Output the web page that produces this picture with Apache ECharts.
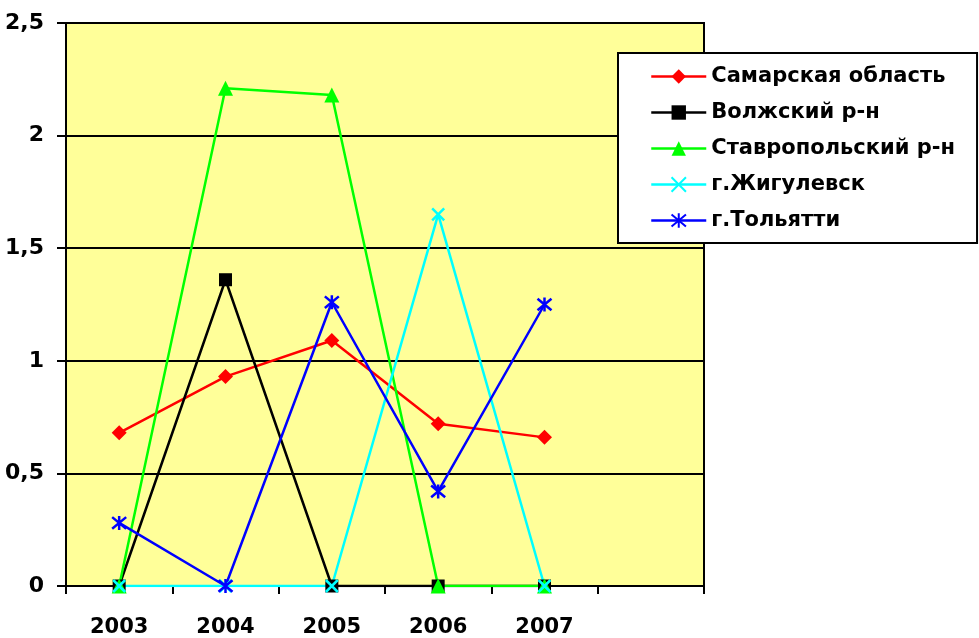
<!DOCTYPE html>
<html>
<head>
<meta charset="utf-8">
<script src="https://cdn.jsdelivr.net/npm/echarts@6/dist/echarts.min.js"></script>
<style>
  html, body { margin: 0; padding: 0; background: #fff; }
  #chart { width: 979px; height: 638px; }
</style>
</head>
<body>
<div id="chart"></div>
<script>
// годы (последняя категория пустая, как в исходной диаграмме)
let years = ['2003', '2004', '2005', '2006', '2007', ''];

// значения по территориям
let samara = [0.68, 0.93, 1.09, 0.72, 0.66];
let volzhsky = [0, 1.36, 0, 0, 0];
let stavropol = [0, 2.21, 2.18, 0, 0];
let zhigulevsk = [0, 0, 0, 1.65, 0];
let togliatti = [0.28, 0, 1.26, 0.42, 1.25];

let seriesNames = ['Самарская область', 'Волжский р-н', 'Ставропольский р-н', 'г.Жигулевск', 'г.Тольятти'];

let font = 'DejaVu Sans';

// крестик и звёздочка как в Excel
let xMark = 'path://M0 0L10 10M10 0L0 10';
let starMark = 'path://M0 0L10 10M10 0L0 10M5 -1L5 11';

function line(name, data, color, symbol, size) {
    return {
        name: name,
        type: 'line',
        data: data,
        symbol: symbol,
        symbolSize: size,
        showAllSymbol: true,
        animation: false,
        lineStyle: { color: color, width: 2.5 },
        itemStyle: { color: color, borderColor: color, borderWidth: symbol.indexOf('path') === 0 ? 2.5 : 0 }
    };
}

let myChart = echarts.init(document.getElementById('chart'));
let option = {
    animation: false,
    grid: {
        left: 66, right: 275, top: 23, bottom: 50,
        show: true,
        backgroundColor: '#FFFF99',
        borderColor: '#000',
        borderWidth: 2
    },
    legend: {
        orient: 'vertical',
        left: 618,
        top: 53,
        padding: [13, 22, 12, 32],
        backgroundColor: '#fff',
        borderColor: '#000',
        borderWidth: 2,
        itemWidth: 55,
        itemHeight: 18,
        itemGap: 15,
        data: seriesNames,
        lineStyle: { width: 2.5 },
        textStyle: { fontFamily: font, fontWeight: 'bold', fontSize: 21, color: '#000' }
    },
    xAxis: {
        type: 'category',
        data: years,
        boundaryGap: true,
        axisLine: { lineStyle: { color: '#000', width: 2 } },
        axisTick: { show: true, length: 8, lineStyle: { color: '#000', width: 2 } },
        axisLabel: { margin: 31, fontFamily: font, fontWeight: 'bold', fontSize: 21, color: '#000' },
        splitLine: { show: false }
    },
    yAxis: {
        type: 'value',
        min: 0,
        max: 2.5,
        interval: 0.5,
        axisLine: { show: true, lineStyle: { color: '#000', width: 2 } },
        axisTick: { show: true, length: 9, lineStyle: { color: '#000', width: 2 } },
        axisLabel: {
            margin: 22,
            fontFamily: font, fontWeight: 'bold', fontSize: 22, color: '#000',
            formatter: v => String(v).replace('.', ',')
        },
        splitLine: { show: true, lineStyle: { color: '#000', width: 2 } }
    },
    series: [
        line(seriesNames[0], samara, '#FF0000', 'diamond', 15),
        line(seriesNames[1], volzhsky, '#000000', 'rect', 13),
        line(seriesNames[2], stavropol, '#00FF00', 'triangle', 15),
        line(seriesNames[3], zhigulevsk, '#00FFFF', xMark, 12),
        line(seriesNames[4], togliatti, '#0000FF', starMark, 14)
    ]
};
myChart.setOption(option);
</script>
</body>
</html>
